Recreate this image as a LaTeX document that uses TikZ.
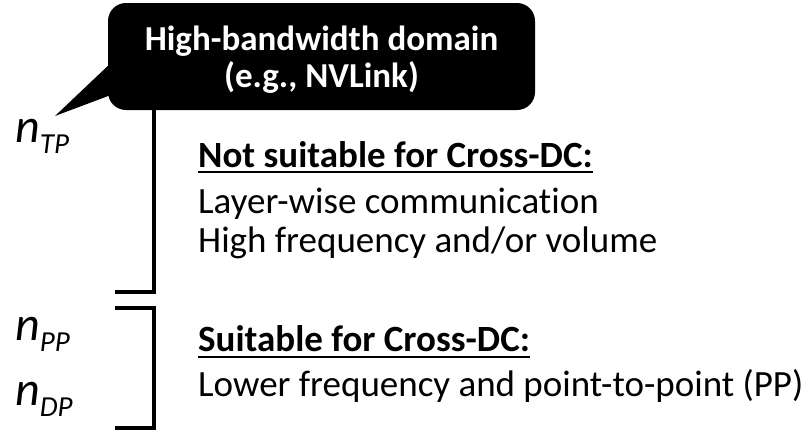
\documentclass[tikz,border=0pt]{standalone}
\usepackage{fontspec}
\setmainfont{Carlito}[Ligatures={NoCommon}]
\usetikzlibrary{calc}
\tikzset{
  bracket/.style={line width=4.5pt},
  callout/.style={fill=black, rounded corners=18pt, inner sep=0pt,
    minimum width=427pt, minimum height=107pt},
  callouttext/.style={text=white, inner sep=0pt, align=center,
    font=\fontsize{35}{37}\selectfont\bfseries},
  heading/.style={anchor=base west, inner sep=0pt, font=\fontsize{37}{40}\selectfont\bfseries},
  body/.style={anchor=base west, inner sep=0pt, font=\fontsize{37}{40}\selectfont},
  dim/.style={anchor=base west, inner sep=0pt, font=\fontsize{48}{48}\selectfont\itshape},
  uline/.style={line width=1.8pt}
}
\newcommand{\dimlabel}[1]{n\raisebox{-11pt}{\fontsize{29}{29}\selectfont#1}}
\begin{document}
\begin{tikzpicture}[x=1pt, y=-1pt]
\useasboundingbox (0,0) rectangle (811,432);

% speech-bubble for the high-bandwidth domain
\node[callout] (dom) at (321.5,56.5) {};
\coordinate (tip) at (55,116);
\fill ($(dom.west)+(1,8.5)$) -- (tip) -- ($(dom.west)+(3,38.5)$) -- cycle;
\node[callouttext] (domtxt) at ($(dom.center)+(0,3)$) {High-bandwidth domain\\(e.g., NVLink)};

% dimension labels
\node[dim] (ntp) at (15,142) {\dimlabel{TP}};
\node[dim] (npp) at (15,340) {\dimlabel{PP}};
\node[dim] (ndp) at (15,405) {\dimlabel{DP}};

% brackets
\coordinate (b1bot) at (154,292);
\coordinate (b1end) at (115,292);
\draw[bracket] (dom.south -| b1bot) -- (b1bot) -- (b1end);
\coordinate (b2a) at (115,308);
\coordinate (b2b) at (154,308);
\coordinate (b2c) at (154,428);
\coordinate (b2d) at (115,428);
\draw[bracket] (b2a) -- (b2b) -- (b2c) -- (b2d);

% descriptions
\node[heading] (h1) at (198,167) {Not suitable for Cross-DC:};
\draw[uline] ([yshift=-5pt]h1.base west) -- ([yshift=-5pt]h1.base east);
\node[body] (l1) at (198,213) {Layer-wise communication};
\node[body] (l2) at (198,252) {High frequency and/or volume};

\node[heading] (h2) at (198,351) {Suitable for Cross-DC:};
\draw[uline] ([yshift=-6pt]h2.base west) -- ([yshift=-6pt]h2.base east);
\node[body] (l3) at (198,396) {Lower frequency and point-to-point (PP)};
\end{tikzpicture}
\end{document}
